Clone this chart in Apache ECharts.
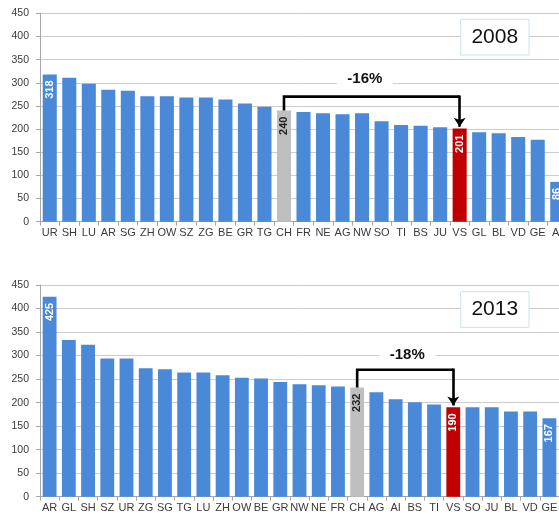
<!DOCTYPE html>
<html><head><meta charset="utf-8">
<script src="https://cdn.jsdelivr.net/npm/echarts@6/dist/echarts.min.js"></script>
<style>html,body{margin:0;padding:0;background:#fff;width:559px;height:514px;overflow:hidden}#c{width:567px;height:514px}</style>
</head><body><div id="c"></div>
<script>
// ---------- data ----------
const years = ['2008', '2013'];
const categories2008 = ['UR','SH','LU','AR','SG','ZH','OW','SZ','ZG','BE','GR','TG','CH','FR','NE','AG','NW','SO','TI','BS','JU','VS','GL','BL','VD','GE','AI'];
const values2008     = [318, 311, 298, 285, 283, 271, 271, 268, 268, 264, 255, 248, 240, 237, 234, 232, 234, 217, 209, 207, 204, 201, 193, 191, 183, 177, 86];
const categories2013 = ['AR','GL','SH','SZ','UR','ZG','SG','TG','LU','ZH','OW','BE','GR','NW','NE','FR','CH','AG','AI','BS','TI','VS','SO','JU','BL','VD','GE'];
const values2013     = [425, 333, 323, 294, 294, 273, 271, 264, 264, 258, 253, 251, 244, 239, 237, 234, 232, 222, 207, 201, 196, 190, 190, 190, 181, 181, 167];
const changes = ['-16%', '-18%'];
const referenceCat = 'CH';
const focusCat = 'VS';
const yMin = 0, yMax = 450, yStep = 50;

// ---------- styles ----------
const BLUE = '#4a89d8', RED = '#c00000', GREY = '#bfbfbf';
const FONT = 'Liberation Sans, Arial, sans-serif';
const bracketLevel = [270, 270];
const changeLabelLevel = [308, 301];
const changeLabelShift = [-7, 2];

const panels = [
  { cats: categories2008, vals: values2008, grid: { left: 40, width: 527, top: 13.3, height: 208.4 } },
  { cats: categories2013, vals: values2013, grid: { left: 40, width: 519, top: 285, height: 211.7 } }
];

const chart = echarts.init(document.getElementById('c'), null, { renderer: 'canvas' });

function barData(cats, vals) {
  return vals.map((v, i) => {
    const c = cats[i];
    let color = BLUE, showLabel = false, labelColor = '#fff';
    if (c === referenceCat) { color = GREY; showLabel = true; labelColor = '#222'; }
    if (c === focusCat) { color = RED; showLabel = true; }
    if (i === 0 || i === cats.length - 1) showLabel = true;
    return {
      value: v,
      itemStyle: { color: color },
      label: { show: showLabel, color: labelColor }
    };
  });
}

const option = {
  animation: false,
  backgroundColor: '#fff',
  grid: panels.map(p => Object.assign({ containLabel: false }, p.grid)),
  xAxis: panels.map((p, i) => ({
    type: 'category', gridIndex: i, data: p.cats,
    axisLine: { lineStyle: { color: '#a6a6a6', width: 1 } },
    axisTick: { show: true, length: 4, lineStyle: { color: '#a6a6a6' } },
    axisLabel: { interval: 0, fontSize: 11, color: '#3a3a3a', fontFamily: FONT, margin: 6 },
    splitLine: { show: false }
  })),
  yAxis: panels.map((p, i) => ({
    type: 'value', gridIndex: i, min: yMin, max: yMax, interval: yStep,
    axisLine: { show: true, lineStyle: { color: '#a6a6a6', width: 1 } },
    axisTick: { show: true, length: 4, lineStyle: { color: '#a6a6a6' } },
    axisLabel: { fontSize: 10.5, color: '#3a3a3a', fontFamily: FONT, margin: 11 },
    splitLine: { show: true, lineStyle: { color: '#cdcdcd', width: 1 } }
  })),
  series: []
};

panels.forEach((p, i) => {
  option.series.push({
    type: 'bar', xAxisIndex: i, yAxisIndex: i,
    barWidth: '72%',
    data: barData(p.cats, p.vals),
    label: {
      position: 'insideTop', rotate: 90, align: 'right', verticalAlign: 'middle',
      distance: 6, fontSize: 11, fontWeight: 'bold', fontFamily: FONT
    },
    z: 2
  });
  const ri = p.cats.indexOf(referenceCat), fi = p.cats.indexOf(focusCat);
  option.series.push({
    type: 'lines', coordinateSystem: 'cartesian2d', xAxisIndex: i, yAxisIndex: i,
    polyline: true,
    lineStyle: { color: '#000', width: 2.6, opacity: 1, join: 'miter' },
    data: [{ coords: [[ri, p.vals[ri]], [ri, bracketLevel[i]], [fi, bracketLevel[i]]] }],
    z: 5
  });
  option.series.push({
    type: 'lines', coordinateSystem: 'cartesian2d', xAxisIndex: i, yAxisIndex: i,
    symbol: ['none', 'arrow'], symbolSize: [8, 9],
    lineStyle: { color: '#000', width: 2.6, opacity: 1 },
    data: [{ coords: [[fi, bracketLevel[i] + 2.5], [fi, p.vals[fi] + 4]] }],
    z: 5
  });
});

chart.setOption(option);

// annotations placed from the library's coordinate conversion
const graphics = [];
panels.forEach((p, i) => {
  const ri = p.cats.indexOf(referenceCat), fi = p.cats.indexOf(focusCat);
  const a = chart.convertToPixel({ gridIndex: i }, [ri, changeLabelLevel[i]]);
  const b = chart.convertToPixel({ gridIndex: i }, [fi, changeLabelLevel[i]]);
  const cx = (a[0] + b[0]) / 2 + changeLabelShift[i];
  graphics.push({
    type: 'rect', shape: { x: cx - 28, y: a[1] - 9, width: 56, height: 18 },
    style: { fill: '#fff' }, z: 10
  });
  graphics.push({
    type: 'text', x: cx, y: a[1],
    style: { text: changes[i], font: 'bold 15px ' + FONT, fill: '#111', align: 'center', verticalAlign: 'middle' },
    z: 11
  });
  const boxY = i === 0 ? 19.3 : 291.7;
  graphics.push({
    type: 'rect', shape: { x: 460.7, y: boxY, width: 68.3, height: 35.7 },
    style: { fill: '#fff', stroke: '#c9e3ea', lineWidth: 1 }, z: 10
  });
  graphics.push({
    type: 'text', x: 494.8, y: boxY + 18,
    style: { text: years[i], font: '21px ' + FONT, fill: '#111', align: 'center', verticalAlign: 'middle' },
    z: 11
  });
});
chart.setOption({ graphic: graphics });
</script>
</body></html>
